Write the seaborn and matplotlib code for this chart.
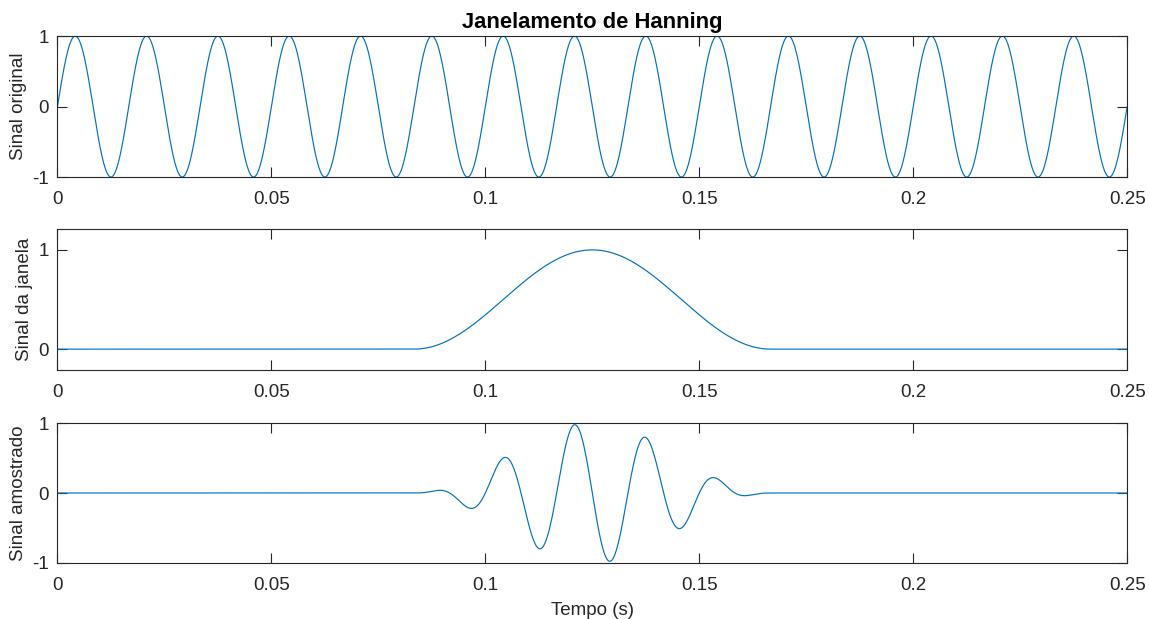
import numpy as np
import pandas as pd
import matplotlib
matplotlib.use("Agg")
import matplotlib.pyplot as plt
import seaborn as sns

# Signal parameters
fs = 20000                  # sampling rate (Hz)
duration = 0.25             # total time span (s)
freq = 60                   # sine frequency (Hz)
win_start = 1 / 12          # Hanning window start (s)
win_end = 1 / 6             # Hanning window end (s)

xticks = [0, 0.05, 0.1, 0.15, 0.2, 0.25]
xtick_labels = ["0", "0.05", "0.1", "0.15", "0.2", "0.25"]
titles = "Janelamento de Hanning"
ylabels = ["Sinal original", "Sinal da janela", "Sinal amostrado"]
xlabel = "Tempo (s)"

t = np.arange(0, duration + 1 / fs, 1 / fs)
original = np.sin(2 * np.pi * freq * t)
inside = (t >= win_start) & (t <= win_end)
window = np.zeros_like(t)
window[inside] = np.hanning(inside.sum())
sampled = original * window

df = pd.DataFrame({"t": t, "orig": original, "win": window, "samp": sampled})

sns.set_theme(style="white")
plt.rcParams["font.family"] = ["Liberation Sans", "DejaVu Sans"]
dark = "#262626"
plt.rcParams.update({
    "axes.edgecolor": dark,
    "axes.linewidth": 0.8,
    "xtick.color": dark,
    "ytick.color": dark,
    "axes.labelcolor": dark,
    "text.color": "black",
})

fig = plt.figure(figsize=(11.49, 6.19), dpi=100)
left, width = 0.050, 0.931
rects = [
    (left, 0.714, width, 0.2278),
    (left, 0.4023, width, 0.2277),
    (left, 0.0905, width, 0.2261),
]
cols = ["orig", "win", "samp"]
ylims = [(-1, 1), (-0.21, 1.21), (-1, 1)]
yticks = [[-1, 0, 1], [0, 1], [-1, 0, 1]]
line_color = "#0072BD"

for i, (r, c) in enumerate(zip(rects, cols)):
    ax = fig.add_axes(r)
    sns.lineplot(data=df, x="t", y=c, ax=ax, color=line_color, linewidth=0.85,
                 estimator=None, sort=False)
    ax.set_xlim(0, duration)
    ax.set_ylim(*ylims[i])
    ax.set_xticks(xticks)
    ax.set_xticklabels(xtick_labels)
    ax.set_yticks(yticks[i])
    ax.set_yticklabels([str(v) for v in yticks[i]])
    ax.tick_params(direction="in", length=7.5, width=0.8, labelsize=13.5,
                   top=True, right=True, bottom=True, left=True)
    ax.tick_params(axis="x", pad=10)
    ax.tick_params(axis="y", pad=6)
    ax.set_ylabel(ylabels[i], fontsize=13.5, labelpad=4)
    ax.set_xlabel("")
    for s in ax.spines.values():
        s.set_visible(True)
        s.set_color(dark)
        s.set_linewidth(0.8)
    if i == 0:
        ax.set_title(titles, fontsize=15.8, fontweight="bold", pad=6)
    if i == 2:
        ax.set_xlabel(xlabel, fontsize=13.5, labelpad=6)

fig.savefig("out.png", dpi=100)
